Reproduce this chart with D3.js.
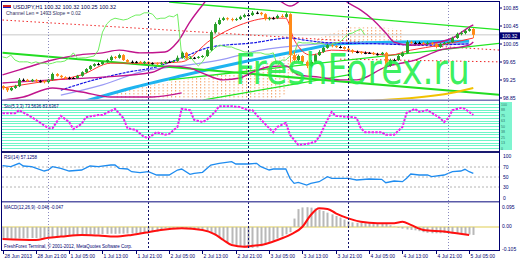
<!DOCTYPE html>
<html>
<head>
<meta charset="utf-8">
<script src="https://cdnjs.cloudflare.com/ajax/libs/d3/7.8.5/d3.min.js"></script>
<style>
  body { margin: 0; background: #fff; }
  svg { display: block; }
  text { font-family: "Liberation Sans", Arial, sans-serif; }
</style>
</head>
<body>
<div id="chart"></div>
<script>
// ---- data (USDJPY H1, 114 bars) ----
const opens = [99.18,99.14,99.09,99.14,99.18,99.32,99.32,99.29,99.32,99.29,
  99.29,99.27,99.32,99.45,99.41,99.38,99.36,99.36,99.36,99.41,
  99.49,99.56,99.63,99.67,99.67,99.72,99.76,99.83,99.81,99.87,
  99.76,99.72,99.72,99.72,99.69,99.72,99.69,99.69,99.67,99.69,
  99.72,99.72,99.74,99.81,99.92,99.80,99.81,99.81,99.83,99.85,
  99.98,100.38,100.56,100.65,100.69,100.67,100.65,100.67,100.72,100.76,
  100.76,100.81,100.81,100.78,100.67,100.69,100.69,100.74,100.72,100.78,
  99.87,99.76,99.85,99.72,99.63,99.72,99.87,99.94,100.03,100.09,
  100.07,100.05,100.05,100.01,99.98,99.94,99.94,99.92,99.92,99.92,
  99.89,99.89,99.92,99.63,99.76,99.76,99.85,99.92,100.16,100.14,
  100.14,100.14,100.12,100.14,100.12,100.05,100.12,100.14,100.16,100.25,
  100.34,100.36,100.41,100.45];
const highs = [99.20,99.16,99.16,99.21,99.36,99.35,99.34,99.34,99.34,99.32,
  99.31,99.34,99.48,99.47,99.43,99.40,99.39,99.38,99.43,99.51,
  99.58,99.65,99.69,99.70,99.74,99.79,99.86,99.85,99.90,99.89,
  99.78,99.75,99.74,99.74,99.74,99.73,99.71,99.71,99.72,99.74,
  99.75,99.76,99.86,99.95,99.94,99.84,99.83,99.85,99.87,100.01,
  100.42,100.60,100.70,100.72,100.71,100.70,100.70,100.75,100.79,100.80,
  100.85,100.84,100.83,100.80,100.72,100.72,100.77,100.78,100.82,100.80,
  99.95,99.88,99.87,99.75,99.76,99.90,99.98,100.06,100.12,100.11,
  100.09,100.08,100.07,100.03,100.00,99.97,99.96,99.95,99.94,99.94,
  99.92,99.94,99.94,99.79,99.79,99.88,99.95,100.20,100.19,100.17,
  100.17,100.16,100.17,100.16,100.14,100.14,100.16,100.19,100.28,100.37,
  100.40,100.44,100.48,100.47];
const lows = [99.10,99.05,99.07,99.12,99.16,99.29,99.27,99.27,99.26,99.26,
  99.24,99.25,99.30,99.39,99.35,99.33,99.33,99.34,99.34,99.39,
  99.47,99.54,99.61,99.64,99.65,99.70,99.74,99.78,99.79,99.74,
  99.70,99.69,99.69,99.67,99.67,99.66,99.66,99.64,99.65,99.67,
  99.70,99.70,99.72,99.79,99.78,99.78,99.78,99.79,99.81,99.83,
  99.96,100.35,100.54,100.63,100.64,100.62,100.63,100.65,100.70,100.73,
  100.74,100.78,100.75,100.64,100.64,100.66,100.67,100.70,100.70,99.70,
  99.70,99.72,99.68,99.58,99.60,99.70,99.85,99.92,100.01,100.04,
  100.03,100.02,99.99,99.95,99.91,99.91,99.89,99.89,99.90,99.87,
  99.86,99.87,99.58,99.61,99.73,99.74,99.83,99.90,100.11,100.11,
  100.12,100.10,100.10,100.09,100.02,100.03,100.10,100.12,100.14,100.23,
  100.31,100.33,100.39,100.25];
const closes = [99.14,99.09,99.14,99.18,99.32,99.32,99.29,99.32,99.29,99.29,
  99.27,99.32,99.45,99.41,99.38,99.36,99.36,99.36,99.41,99.49,
  99.56,99.63,99.67,99.67,99.72,99.76,99.83,99.81,99.87,99.76,
  99.72,99.72,99.72,99.69,99.72,99.69,99.69,99.67,99.69,99.72,
  99.72,99.74,99.81,99.92,99.80,99.81,99.81,99.83,99.85,99.98,
  100.38,100.56,100.65,100.69,100.67,100.65,100.67,100.72,100.76,100.76,
  100.81,100.81,100.78,100.67,100.69,100.69,100.74,100.72,100.78,99.87,
  99.76,99.85,99.72,99.63,99.72,99.87,99.94,100.03,100.09,100.07,
  100.05,100.05,100.01,99.98,99.94,99.94,99.92,99.92,99.92,99.89,
  99.89,99.92,99.63,99.76,99.76,99.85,99.92,100.16,100.14,100.14,
  100.14,100.12,100.14,100.12,100.05,100.12,100.14,100.16,100.25,100.34,
  100.36,100.41,100.45,100.32];

// indicator lines on the price chart, [bar, price]
const bbUpper = [[0,99.43],[4,99.54],[12,99.76],[18,99.87],[24,99.92],[28,99.98],[33,99.92],[39,99.94],
  [42,100.16],[45,100.61],[48,100.98],[51,101.32],[57,101.54],[63,101.36],[67,101.05],[69,100.96],
  [71,101.05],[74,101.43],[79,101.32],[83,101.03],[86,100.87],[89,100.65],[92,100.36],[94,100.16],
  [98,100.09],[105,100.16],[108,100.25],[112,100.49],[113,100.54]];
const bbLower = [[0,99.25],[12,99.32],[24,99.38],[36,99.49],[40,99.63],[45,99.58],[48,99.47],[53,99.32],
  [57,99.36],[60,99.49],[64,99.61],[68,99.63],[71,99.43],[76,99.38],[81,99.32],[85,99.32],
  [92,99.61],[99,99.76],[105,99.98],[112,100.09],[113,100.16]];
const envLower = [[0,98.87],[5,98.94],[12,99.14],[19,99.05],[26,98.94],[36,98.94],[43,99.03]];
const maSlow = [[20,98.85],[31,99.14],[43,99.41],[60,99.76],[72,99.98],[81,100.12],[96,100.16],[112,100.18]];
const tenkan = [[0,99.14],[9,99.27],[19,99.43],[26,99.69],[36,99.69],[43,99.72],[50,100.21],[57,100.54],
  [64,100.69],[68,100.69],[70,100.21],[74,99.87],[79,99.98],[86,99.94],[93,99.87],[98,99.98],
  [105,100.09],[113,100.25]];
const kijun = [[14,99.09],[22,99.32],[30,99.49],[37,99.61],[43,99.81],[50,100.05],[60,100.14],[69,100.25],
  [72,100.21],[79,100.14],[91,100.12],[100,100.09],[112,100.12]];
const senkouLine = [[14,98.98],[24,99.21],[35,99.54],[43,99.63],[52,99.76],[62,99.98],[72,100.09],
  [81,100.14],[96,100.12],[112,100.12]];
const cloudOneTop = [[27,99.05],[36,99.21],[43,99.32],[52,99.45],[62,99.63],[68,99.87],[72,100.09]];
const cloudOneBottom = [[27,98.6],[60,98.6],[68,99.0],[72,100.09]];
const cloudTwoTop = [[75,100.21],[79,100.36],[83,100.49],[91,100.49],[96,100.43]];
const cloudTwoBottom = [[75,100.14],[96,100.14]];
const channelTop = [[40,101.05],[120,100.43]];
const channelLow = [[0,99.92],[120,98.98]];
const trendUp = [[40,99.32],[120,100.14]];
const trendSteep = [[48,98.87],[83,99.43]];
const redDotted = [[0,100.65],[119.5,99.98]];
const redDotted2 = [[81,99.78],[119,99.72]];
const yellowLine = [[86,98.85],[106,99.0],[113,99.14]];
const bid = 100.32;
const priceTicks = [100.85,100.45,100.05,99.65,99.25,98.85];

// oscillators
const stochK = [[0,79],[3,79],[4,86],[7,70],[8,64],[11,45],[12,45],[14,73],[16,59],[17,43],[19,55],[20,70],
  [23,75],[24,75],[27,89],[29,68],[30,45],[32,41],[34,25],[35,23],[37,36],[39,30],[40,32],[42,48],[43,89],
  [45,86],[46,64],[48,59],[49,64],[51,82],[52,95],[55,95],[57,93],[59,86],[60,86],[61,75],[64,45],[65,36],
  [66,48],[68,57],[69,30],[71,7],[73,9],[75,14],[76,25],[78,64],[79,82],[80,73],[84,70],[85,68],[86,45],
  [87,36],[88,36],[91,36],[92,30],[94,30],[95,39],[96,48],[97,80],[99,89],[100,82],[102,86],[103,80],
  [105,68],[106,59],[107,68],[108,86],[110,91],[111,89],[112,82],[113,75]];
const stochLevels = [0,6.25,12.5,18.75,25,31.25,37.5,43.75,50,56.25,62.5,68.75,75,81.25,87.5,93.75,100];
const rsi = [[0,72.6],[2,70.6],[4,77.4],[5,72],[7,70.6],[10,62],[11,64],[12,70.6],[14,67.4],[16,62],[19,64],
  [21,72],[23,70.6],[26,74],[27,74],[28,67.4],[30,66],[31,60.6],[33,58.6],[35,60.6],[37,54],[40,54],
  [42,64],[43,66],[45,55.4],[46,57.4],[48,59.4],[50,74],[52,77.4],[55,80.6],[56,76],[59,76],[61,77.4],
  [62,70.6],[64,64],[65,66],[68,66],[69,47.4],[70,37.4],[71,39.4],[73,34],[74,37.4],[76,40.6],[78,50.6],
  [79,47.4],[83,47.4],[85,44],[88,46],[91,45.4],[92,38.6],[94,42],[96,40.6],[97,47.4],[98,56],[100,54],
  [102,54],[103,50.6],[106,54],[108,60.6],[110,62],[111,65.4],[112,60.6],[113,57.4]];
const rsiLevels = [70,50,30];
const macdHist = [-0.055,-0.055,-0.056,-0.056,-0.055,-0.054,-0.054,-0.053,-0.053,-0.052,
  -0.052,-0.049,-0.048,-0.047,-0.046,-0.042,-0.040,-0.040,-0.039,-0.039,
  -0.038,-0.037,-0.036,-0.035,-0.034,-0.033,-0.032,-0.033,-0.032,-0.032,
  -0.031,-0.031,-0.030,-0.029,-0.026,-0.025,-0.024,-0.022,-0.010,-0.006,
  -0.005,-0.004,-0.005,-0.006,-0.008,-0.009,-0.010,-0.010,-0.012,-0.020,
  -0.028,-0.040,-0.050,-0.062,-0.072,-0.080,-0.088,-0.094,-0.098,-0.100,
  -0.100,-0.098,-0.092,-0.085,-0.075,-0.065,-0.055,-0.045,-0.035,-0.025,
  0.040,0.085,0.093,0.094,0.092,0.088,0.082,0.076,0.068,0.060,
  0.052,0.045,0.035,0.027,0.022,0.020,0.019,0.018,0.018,0.017,
  0.018,0.017,0.014,0.008,0.002,-0.004,-0.008,-0.012,-0.014,-0.016,
  -0.020,-0.025,-0.028,-0.030,-0.030,-0.030,-0.029,-0.030,-0.031,-0.031,
  -0.032,-0.034,-0.036,-0.038];
const macdSignal = [[0,-0.057],[8,-0.062],[11,-0.051],[14,-0.046],[19,-0.038],[23,-0.041],[27,-0.046],
  [31,-0.038],[35,-0.025],[38,-0.014],[43,-0.006],[48,-0.014],[51,-0.035],[53,-0.062],[55,-0.086],
  [58,-0.094],[60,-0.09],[62,-0.086],[66,-0.062],[69,-0.038],[72,0.001],[74,0.057],[76,0.089],[78,0.086],
  [80,0.065],[83,0.041],[86,0.025],[90,0.018],[94,0.018],[96,0.025],[98,0.01],[101,-0.014],[106,-0.022],
  [109,-0.03],[112,-0.038]];
const macdTicks = [0.095,0,-0.105];
const macdTickText = ["0.095","0.00","-0.105"];

const timeBars = [0,8,16,24,32,40,48,56,64,72,80,88,96,104,112];
const timeLabels = ["28 Jun 2013","28 Jun 21:00","1 Jul 05:00","1 Jul 13:00","1 Jul 21:00","2 Jul 05:00",
  "2 Jul 13:00","2 Jul 21:00","3 Jul 05:00","3 Jul 13:00","3 Jul 21:00","4 Jul 05:00","4 Jul 13:00",
  "4 Jul 21:00","5 Jul 05:00"];
const dayBreaks = [11,35,59,83,107];

// ---- layout ----
const W = 520, H = 260;
const left = 2, right = 499;
const navy = "#000070";

const svg = d3.select("#chart").append("svg").attr("width", W).attr("height", H);
const defs = svg.append("defs");

function clip(id, y0, y1) {
  defs.append("clipPath").attr("id", id)
    .append("rect").attr("x", left).attr("y", y0).attr("width", right - left).attr("height", y1 - y0);
}
clip("cMain", 2, 99.5);
clip("cStoch", 101.5, 151);
clip("cRsi", 153, 201);
clip("cMacd", 203, 250.5);

// vertical dotted hatch used for the cloud
const hatch = defs.append("pattern").attr("id", "hatch")
  .attr("patternUnits", "userSpaceOnUse").attr("width", 4.17).attr("height", 3);
hatch.append("rect").attr("x", 0).attr("y", 0).attr("width", 1).attr("height", 1.5).attr("fill", "#f5a36a");

// scales
const x = d3.scaleLinear().domain([0, 113]).range([2.5, 473.3]);
const yMain = d3.scaleLinear().domain([98.85, 100.85]).range([101, 11]);
const yStoch = d3.scaleLinear().domain([0, 100]).range([148, 104]);
const yRsi = d3.scaleLinear().domain([0, 100]).range([202, 152]);
const yMacd = d3.scaleLinear().domain([-0.105, 0.095]).range([249, 207]);

const gMain = svg.append("g").attr("clip-path", "url(#cMain)");
const gStoch = svg.append("g").attr("clip-path", "url(#cStoch)");
const gRsi = svg.append("g").attr("clip-path", "url(#cRsi)");
const gMacd = svg.append("g").attr("clip-path", "url(#cMacd)");

function drawLine(g, pts, y, color, width, dash, curve) {
  const line = d3.line().x(d => x(d[0])).y(d => y(d[1])).curve(curve || d3.curveMonotoneX);
  return g.append("path").datum(pts)
    .attr("d", line).attr("fill", "none")
    .attr("stroke", color).attr("stroke-width", width)
    .attr("stroke-dasharray", dash || null);
}

function drawCloud(top, bottom) {
  const pts = top.concat(bottom.slice().reverse());
  gMain.append("path")
    .attr("d", d3.line().x(d => x(d[0])).y(d => yMain(d[1]))(pts) + "Z")
    .attr("fill", "url(#hatch)");
}

// ---- main chart ----
drawCloud(cloudOneTop, cloudOneBottom);
drawCloud(cloudTwoTop, cloudTwoBottom);

// bid line
gMain.append("line").attr("x1", left).attr("x2", right)
  .attr("y1", yMain(bid)).attr("y2", yMain(bid))
  .attr("stroke", "#c8c8c8").attr("stroke-width", 1);

drawLine(gMain, redDotted, yMain, "#ee2222", 1, "1.5,2.5", d3.curveLinear);
drawLine(gMain, redDotted2, yMain, "#ee2222", 1, "1.5,2.5", d3.curveLinear);
drawLine(gMain, maSlow, yMain, "#1eb4f0", 3);
drawLine(gMain, senkouLine, yMain, "#9a9af5", 1.2);
drawLine(gMain, kijun, yMain, "#1414e6", 1.2, "3,1");
drawLine(gMain, channelTop, yMain, "#22e622", 1.3, null, d3.curveLinear);
drawLine(gMain, channelLow, yMain, "#22dd22", 2, null, d3.curveLinear);
drawLine(gMain, trendUp, yMain, "#22e622", 1.3, null, d3.curveLinear);
drawLine(gMain, trendSteep, yMain, "#22e622", 1.3, null, d3.curveLinear);
drawLine(gMain, yellowLine, yMain, "#f2c200", 2);
drawLine(gMain, bbUpper, yMain, "#c0148c", 1.4);
drawLine(gMain, bbLower, yMain, "#c0148c", 1.4);
drawLine(gMain, envLower, yMain, "#c0148c", 1.4);
drawLine(gMain, tenkan, yMain, "#ff3030", 1);

// lagging span: closes moved back 26 bars
const lagging = closes.slice(26).map((c, i) => [i, c]);
drawLine(gMain, lagging, yMain, "#70ee60", 1, null, d3.curveLinear);

// candles
const bars = d3.range(closes.length);
const candleColor = i => closes[i] > opens[i] ? "#2aa02a" : (closes[i] < opens[i] ? "#ff8a18" : "#000");
gMain.selectAll(".wick").data(bars).enter().append("line")
  .attr("x1", i => Math.round(x(i)) + 0.5).attr("x2", i => Math.round(x(i)) + 0.5)
  .attr("y1", i => yMain(highs[i])).attr("y2", i => yMain(lows[i]))
  .attr("stroke", candleColor).attr("stroke-width", 1);
gMain.selectAll(".body").data(bars).enter().append("rect")
  .attr("x", i => Math.round(x(i)) - 1)
  .attr("y", i => yMain(Math.max(opens[i], closes[i])))
  .attr("width", 3)
  .attr("height", i => Math.max(1, Math.abs(yMain(opens[i]) - yMain(closes[i]))))
  .attr("fill", candleColor);

// watermark, squeezed to its width in the picture
const mark = svg.append("text").attr("x", 0).attr("y", 0)
  .style("font-family", "'DejaVu Sans', Verdana, sans-serif")
  .style("font-size", "42px").attr("fill", "#22ee4a").attr("fill-opacity", 0.9)
  .text("FreshForex.ru");
const markLen = mark.node().getComputedTextLength();
mark.attr("transform", `translate(235,84) scale(${235 / markLen},1)`);

// ---- stochastic ----
stochLevels.forEach(v => {
  gStoch.append("line").attr("x1", left).attr("x2", right)
    .attr("y1", Math.round(yStoch(v)) + 0.5).attr("y2", Math.round(yStoch(v)) + 0.5)
    .attr("stroke", "#6ff5c8").attr("stroke-width", 1);
});
drawLine(gStoch, stochK, yStoch, "#f020f0", 2, "2.5,1.2", d3.curveLinear);

// ---- RSI ----
rsiLevels.forEach(v => {
  gRsi.append("line").attr("x1", left).attr("x2", right)
    .attr("y1", yRsi(v)).attr("y2", yRsi(v))
    .attr("stroke", "#b4b4b4").attr("stroke-dasharray", "2,2");
});
drawLine(gRsi, rsi, yRsi, "#1e8cf0", 1.3, null, d3.curveLinear);

// ---- MACD ----
gMacd.append("line").attr("x1", left).attr("x2", right)
  .attr("y1", yMacd(0)).attr("y2", yMacd(0))
  .attr("stroke", "#efe6a8").attr("stroke-width", 2);
gMacd.selectAll(".hist").data(bars).enter().append("rect")
  .attr("x", i => Math.round(x(i)) - 0.5)
  .attr("y", i => Math.min(yMacd(0), yMacd(macdHist[i])))
  .attr("width", 2)
  .attr("height", i => Math.abs(yMacd(macdHist[i]) - yMacd(0)))
  .attr("fill", "#b8b8b8");
drawLine(gMacd, macdSignal, yMacd, "#ff1010", 2);

// ---- separators, frames ----
dayBreaks.forEach((b, k) => {
  const light = k === 0 || k === dayBreaks.length - 1;
  svg.append("line").attr("x1", Math.round(x(b)) + 0.5).attr("x2", Math.round(x(b)) + 0.5)
    .attr("y1", 2).attr("y2", 251)
    .attr("stroke", light ? "#8a8ac0" : "#10106a").attr("stroke-width", 1)
    .attr("stroke-dasharray", light ? "1,2" : "2,2");
});

svg.append("rect").attr("x", left).attr("y", 99.5).attr("width", right - left).attr("height", 1.5).attr("fill", "#7878b8");
svg.append("rect").attr("x", left).attr("y", 151).attr("width", right - left).attr("height", 2).attr("fill", "#1a1a70");
svg.append("rect").attr("x", left).attr("y", 201).attr("width", right - left).attr("height", 1.5).attr("fill", "#5a5aa8");
svg.append("line").attr("x1", 1.5).attr("x2", 1.5).attr("y1", 1).attr("y2", 251).attr("stroke", navy);
svg.append("line").attr("x1", 1).attr("x2", right).attr("y1", 1.5).attr("y2", 1.5).attr("stroke", navy);
svg.append("line").attr("x1", right + 0.5).attr("x2", right + 0.5).attr("y1", 1).attr("y2", 251).attr("stroke", navy);

// time axis
svg.append("line").attr("x1", 1).attr("x2", right).attr("y1", 250.5).attr("y2", 250.5).attr("stroke", navy);
timeBars.forEach((b, k) => {
  const tx = Math.round(x(b)) + 0.5;
  svg.append("line").attr("x1", tx).attr("x2", tx).attr("y1", 251).attr("y2", 254).attr("stroke", navy);
  svg.append("text").attr("x", tx + 1).attr("y", 258)
    .style("font-size", "5px").attr("fill", navy).text(timeLabels[k]);
});

// right price scale
priceTicks.forEach(v => {
  svg.append("line").attr("x1", right).attr("x2", right + 3)
    .attr("y1", yMain(v) - 3).attr("y2", yMain(v) - 3).attr("stroke", navy);
  svg.append("text").attr("x", 503).attr("y", yMain(v) - 1.2)
    .style("font-size", "5px").attr("fill", navy).text(v.toFixed(2));
});
svg.append("rect").attr("x", 500).attr("y", yMain(bid) - 2.5).attr("width", 20).attr("height", 7).attr("fill", "#000070");
svg.append("text").attr("x", 502).attr("y", yMain(bid) + 3)
  .style("font-size", "5px").attr("fill", "#fff").text(bid.toFixed(2));

// stochastic level labels
svg.append("rect").attr("x", 500).attr("y", 102).attr("width", 12).attr("height", 48).attr("fill", "#7ff5d0");
stochLevels.filter((v, i) => i % 2 === 0).forEach(v => {
  svg.append("text").attr("x", 501).attr("y", yStoch(v) + 1.5)
    .style("font-size", "3.5px").attr("fill", "#2a7a6a").text(Math.round(v));
});

// RSI scale
[100, 70, 50, 30, 0].forEach(v => {
  const ty = Math.min(Math.max(yRsi(v), 156), 198);
  svg.append("text").attr("x", 503).attr("y", ty + 1.5)
    .style("font-size", "5px").attr("fill", navy).text(v);
});

// MACD scale
macdTicks.forEach((v, k) => {
  svg.append("text").attr("x", 502).attr("y", yMacd(v) + 1.5)
    .style("font-size", "5px").attr("fill", navy).text(macdTickText[k]);
});

// ---- captions ----
svg.append("rect").attr("x", 3).attr("y", 5).attr("width", 8).attr("height", 2).attr("fill", "#d02020");
svg.append("rect").attr("x", 3).attr("y", 7).attr("width", 8).attr("height", 1).attr("fill", "#2020c0");
svg.append("text").attr("x", 13).attr("y", 8.5).style("font-size", "5.5px").attr("fill", "#000050")
  .text("USDJPY,H1  100.32 100.32 100.25 100.32");
svg.append("text").attr("x", 6).attr("y", 15).style("font-size", "5px").attr("fill", "#303060")
  .text("Channel Len = 1493  Slope = 0.02");
svg.append("text").attr("x", 4).attr("y", 108).style("font-size", "4.5px").attr("fill", navy)
  .text("Sto(5,3,3) 73.5636 83.6367");
svg.append("text").attr("x", 4).attr("y", 158.5).style("font-size", "4.5px").attr("fill", navy)
  .text("RSI(14) 57.1258");
svg.append("text").attr("x", 4).attr("y", 209).style("font-size", "4.5px").attr("fill", navy)
  .text("MACD(12,26,9) -0.046 -0.047");
svg.append("text").attr("x", 4).attr("y", 247.5).style("font-size", "4.5px").attr("fill", navy)
  .text("FreshForex Terminal, © 2001-2012, MetaQuotes Software Corp.");
</script>
</body>
</html>
